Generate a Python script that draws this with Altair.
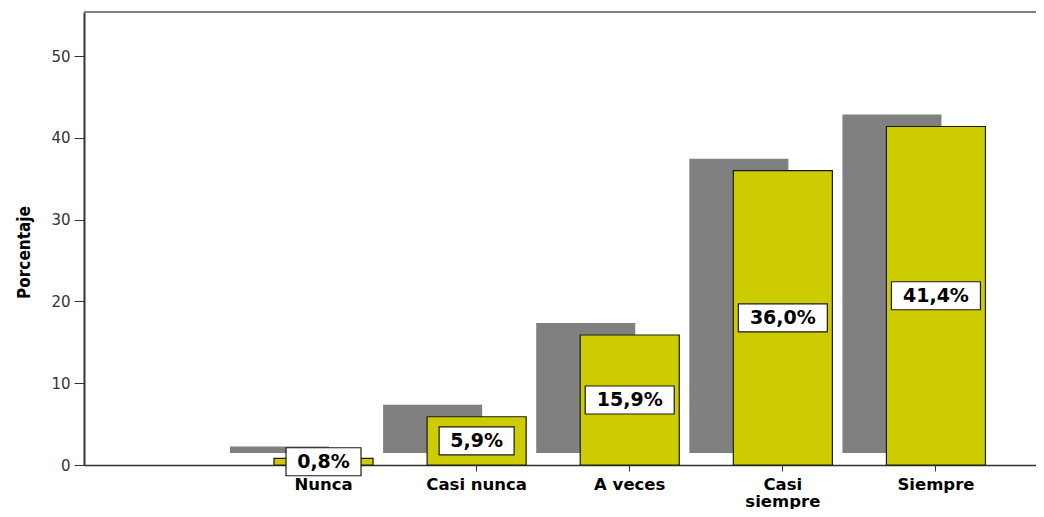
import altair as alt
import pandas as pd

categories = ["Nunca", "Casi nunca", "A veces", "Casi siempre", "Siempre"]
values = [0.8, 5.9, 15.9, 36.0, 41.4]
labels = ["0,8%", "5,9%", "15,9%", "36,0%", "41,4%"]
y_ticks = [0, 10, 20, 30, 40, 50]

df = pd.DataFrame({"cat": categories, "val": values, "lab": labels})

W, H = 952, 453
domain = [""] + categories

xscale = alt.Scale(domain=domain, paddingInner=0.353, paddingOuter=0.2855, align=0.422)
yscale = alt.Scale(domain=[0, 55.4], nice=False, zero=True)

x_enc = alt.X(
    "cat:N",
    scale=xscale,
    sort=domain,
    title=None,
    axis=alt.Axis(
        values=categories,
        labelExpr="datum.value == 'Casi siempre' ? ['Casi', 'siempre'] : datum.value",
        labelFont="DejaVu Sans",
        labelFontWeight="bold",
        labelFontSize=16.5,
        labelColor="#000000",
        labelLineHeight=17,
        labelAngle=0,
        labelPadding=5,
        tickSize=6,
        tickColor="#333333",
        domainColor="#333333",
        domainWidth=1.5,
    ),
)

y_enc = alt.Y(
    "val:Q",
    scale=yscale,
    axis=alt.Axis(
        values=y_ticks,
        grid=False,
        title="Porcentaje",
        titleFont="DejaVu Sans Condensed",
        titleFontWeight="bold",
        titleFontSize=17,
        titleColor="#000000",
        titlePadding=17,
        titleY=240,
        labelFont="DejaVu Sans",
        labelFontSize=15,
        labelColor="#333333",
        labelPadding=4,
        tickSize=10,
        tickColor="#333333",
        domainColor="#333333",
        domainWidth=2,
    ),
)

base = alt.Chart(df).transform_calculate(mid="datum.val / 2", zero="0")

shadow = base.mark_bar(color="#808080", xOffset=-44, yOffset=-12, y2Offset=-12).encode(
    x=x_enc, y=y_enc, y2=alt.Y2("zero:Q")
)

bars = base.mark_bar(fill="#CCCC00", stroke="#1a1a1a", strokeWidth=1.2).encode(
    x=x_enc, y=y_enc, y2=alt.Y2("zero:Q")
)

box_short = base.transform_filter("length(datum.lab) == 4").mark_bar(
    width=75, fill="#FFFFFF", stroke="#1a1a1a", strokeWidth=1.2, yOffset=-14, y2Offset=14
).encode(x=x_enc, y=alt.Y("mid:Q", scale=yscale), y2=alt.Y2("mid:Q"))

box_long = base.transform_filter("length(datum.lab) == 5").mark_bar(
    width=89, fill="#FFFFFF", stroke="#1a1a1a", strokeWidth=1.2, yOffset=-14, y2Offset=14
).encode(x=x_enc, y=alt.Y("mid:Q", scale=yscale), y2=alt.Y2("mid:Q"))

texts = base.mark_text(
    font="DejaVu Sans", fontWeight="bold", fontSize=19, color="#000000", baseline="middle", align="center"
).encode(x=x_enc, y=alt.Y("mid:Q", scale=yscale), text="lab:N")

top_border = alt.Chart(pd.DataFrame({"k": [0]})).mark_rule(color="#808080", strokeWidth=2).encode(
    x=alt.value(0), x2=alt.value(W), y=alt.value(0)
)

chart = alt.layer(shadow, bars, box_short, box_long, texts, top_border).properties(
    width=W,
    height=H,
    autosize=alt.AutoSizeParams(type="none"),
    padding={"left": 76, "top": 4, "right": 0, "bottom": 44},
).configure_view(stroke=None)

chart.save("out.html", embed_options={"renderer": "svg", "actions": False})
